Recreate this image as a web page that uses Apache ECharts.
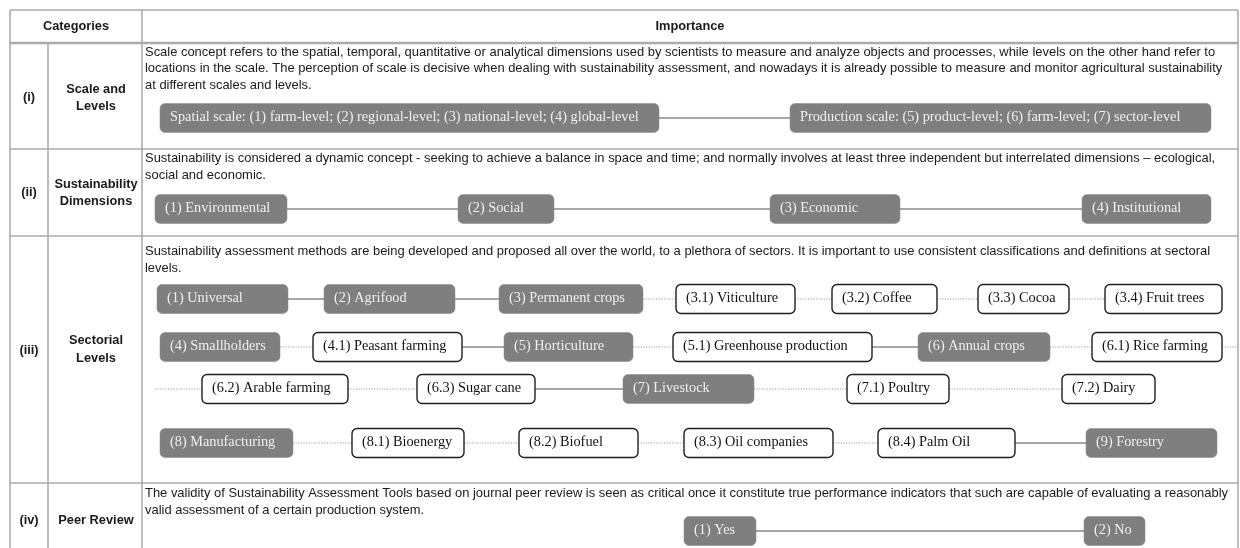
<!DOCTYPE html>
<html>
<head>
<meta charset="utf-8">
<script src="https://cdn.jsdelivr.net/npm/echarts@6/dist/echarts.min.js"></script>
<style>
html,body{margin:0;padding:0;background:#fff;}
#chart{width:1240px;height:548px;}
</style>
</head>
<body>
<div id="chart"></div>
<script>
// ================= DATA =================
const headerLabels = ['Categories', 'Importance'];
const categoryIds = ['(i)', '(ii)', '(iii)', '(iv)'];
const categoryNames = [['Scale and', 'Levels'], ['Sustainability', 'Dimensions'], ['Sectorial', 'Levels'], ['Peer Review']];
const descriptions = [
  ['Scale concept refers to the spatial, temporal, quantitative or analytical dimensions used by scientists to measure and analyze objects and processes, while levels on the other hand refer to',
   'locations in the scale. The perception of scale is decisive when dealing with sustainability assessment, and nowadays it is already possible to measure and monitor agricultural sustainability',
   'at different scales and levels.'],
  ['Sustainability is considered a dynamic concept - seeking to achieve a balance in space and time; and normally involves at least three independent but interrelated dimensions \u2013 ecological,',
   'social and economic.'],
  ['Sustainability assessment methods are being developed and proposed all over the world, to a plethora of sectors. It is important to use consistent classifications and definitions at sectoral',
   'levels.'],
  ['The validity of Sustainability Assessment Tools based on journal peer review is seen as critical once it constitute true performance indicators that such are capable of evaluating a reasonably',
   'valid assessment of a certain production system.']
];
const scaleNodes = ['Spatial scale: (1) farm-level; (2) regional-level; (3) national-level; (4) global-level',
                    'Production scale: (5) product-level; (6) farm-level; (7) sector-level'];
const dimensionNodes = ['(1) Environmental', '(2) Social', '(3) Economic', '(4) Institutional'];
const sectorNodes = [
  '(1) Universal', '(2) Agrifood', '(3) Permanent crops', '(3.1) Viticulture', '(3.2) Coffee', '(3.3) Cocoa', '(3.4) Fruit trees',
  '(4) Smallholders', '(4.1) Peasant farming', '(5) Horticulture', '(5.1) Greenhouse production', '(6) Annual crops', '(6.1) Rice farming',
  '(6.2) Arable farming', '(6.3) Sugar cane', '(7) Livestock', '(7.1) Poultry', '(7.2) Dairy',
  '(8) Manufacturing', '(8.1) Bioenergy', '(8.2) Biofuel', '(8.3) Oil companies', '(8.4) Palm Oil', '(9) Forestry'
];
const sectorKinds = [
  'main', 'main', 'main', 'sub', 'sub', 'sub', 'sub',
  'main', 'sub', 'main', 'sub', 'main', 'sub',
  'sub', 'sub', 'main', 'sub', 'sub',
  'main', 'sub', 'sub', 'sub', 'sub', 'main'
];
// links between sector nodes (from index, to index); style follows the kind of the target
const sectorLinks = [[0,1],[1,2],[2,3],[3,4],[4,5],[5,6],
  [7,8],[8,9],[9,10],[10,11],[11,12],[12,13],[13,14],[14,15],[15,16],[16,17],
  [18,19],[19,20],[20,21],[21,22],[22,23]];
const peerNodes = ['(1) Yes', '(2) No'];

// ================= LAYOUT (positions & sizes) =================
const colEdges = [10, 48, 142, 1238];
const rowEdges = [10, 43, 149, 236, 483, 548];
const descLineY = [[52, 68, 85], [158, 175], [251, 268], [493, 510]];
const catLabelY = [[89, 106], [184, 201], [340, 358], [520]];
const catIdY = [97, 192, 350, 520];
const BOX_H = 29;
const scaleBoxX = [[160, 659], [790, 1211]];
const scaleRowY = 118;
const dimBoxX = [[155, 287], [458, 554], [770, 900], [1082, 1211]];
const dimRowY = 209;
const sectorBoxX = [
  [157, 288], [324, 455], [499, 643], [676, 795], [832, 937], [978, 1069], [1105, 1222],
  [160, 280], [313, 462], [504, 633], [673, 872], [918, 1050], [1092, 1222],
  [202, 348], [417, 535], [623, 754], [847, 949], [1062, 1155],
  [160, 293], [352, 464], [519, 638], [684, 833], [878, 1015], [1086, 1217]
];
const sectorRowOf = [0,0,0,0,0,0,0, 1,1,1,1,1,1, 2,2,2,2,2, 3,3,3,3,3,3];
const sectorRowY = [299, 347, 389, 443];
const wrapOutX = 1238, wrapInX = 155;
const peerBoxX = [[684, 756], [1084, 1145]];
const peerRowY = 531;

// ================= BUILD MARKS =================
const boxes = [];
scaleNodes.forEach((t, i) => boxes.push({label: t, kind: 'main', x0: scaleBoxX[i][0], x1: scaleBoxX[i][1], y: scaleRowY}));
dimensionNodes.forEach((t, i) => boxes.push({label: t, kind: 'main', x0: dimBoxX[i][0], x1: dimBoxX[i][1], y: dimRowY}));
sectorNodes.forEach((t, i) => boxes.push({label: t, kind: sectorKinds[i], x0: sectorBoxX[i][0], x1: sectorBoxX[i][1], y: sectorRowY[sectorRowOf[i]]}));
peerNodes.forEach((t, i) => boxes.push({label: t, kind: 'main', x0: peerBoxX[i][0], x1: peerBoxX[i][1], y: peerRowY}));

const links = [];
function chain(xs, y) { for (let i = 0; i < xs.length - 1; i++) links.push({x0: xs[i][1], x1: xs[i + 1][0], y: y, style: 'solid'}); }
chain(scaleBoxX, scaleRowY);
chain(dimBoxX, dimRowY);
chain(peerBoxX, peerRowY);
sectorLinks.forEach(([a, b]) => {
  const style = sectorKinds[b] === 'main' ? 'solid' : 'dotted';
  const ra = sectorRowOf[a], rb = sectorRowOf[b];
  if (ra === rb) {
    links.push({x0: sectorBoxX[a][1], x1: sectorBoxX[b][0], y: sectorRowY[ra], style});
  } else {
    links.push({x0: sectorBoxX[a][1], x1: wrapOutX, y: sectorRowY[ra], style});
    links.push({x0: wrapInX, x1: sectorBoxX[b][0], y: sectorRowY[rb], style});
  }
});

const gridLines = [];
rowEdges.slice(0, rowEdges.length - 1).forEach((y, i) => gridLines.push({x0: colEdges[0], y0: y, x1: colEdges[3], y1: y, w: i === 1 ? 2.6 : 1.6}));
[colEdges[0], colEdges[2], colEdges[3]].forEach(x => gridLines.push({x0: x, y0: rowEdges[0], x1: x, y1: rowEdges[5], w: 1.6}));
gridLines.push({x0: colEdges[1], y0: rowEdges[1], x1: colEdges[1], y1: rowEdges[5], w: 1.6});

const texts = [];
const SANS = '"Liberation Sans", Arial, sans-serif';
const BOLD = 'bold 12.8px ' + SANS;
texts.push({t: headerLabels[0], x: (colEdges[0] + colEdges[2]) / 2, y: 26, align: 'center', font: BOLD});
texts.push({t: headerLabels[1], x: (colEdges[2] + colEdges[3]) / 2, y: 26, align: 'center', font: BOLD});
categoryIds.forEach((t, i) => texts.push({t, x: (colEdges[0] + colEdges[1]) / 2, y: catIdY[i], align: 'center', font: BOLD}));
categoryNames.forEach((lines, i) => lines.forEach((t, j) => texts.push({t, x: (colEdges[1] + colEdges[2]) / 2 + 1, y: catLabelY[i][j], align: 'center', font: BOLD})));
descriptions.forEach((lines, i) => lines.forEach((t, j) => texts.push({t, x: colEdges[2] + 3, y: descLineY[i][j], align: 'left', font: '12.95px ' + SANS})));

// ================= CHART =================
const chart = echarts.init(document.getElementById('chart'), null, {renderer: 'canvas'});
const option = {
  animation: false,
  backgroundColor: '#ffffff',
  grid: {left: 0, right: 0, top: 0, bottom: 0},
  xAxis: {type: 'value', min: 0, max: 1240, show: false},
  yAxis: {type: 'value', min: 0, max: 548, inverse: true, show: false},
  series: [
    {
      type: 'custom', name: 'table', clip: false, silent: true,
      data: gridLines.map(g => [g.x0, g.y0, g.x1, g.y1]),
      renderItem: (params, api) => {
        const g = gridLines[params.dataIndex];
        const p0 = api.coord([g.x0, g.y0]), p1 = api.coord([g.x1, g.y1]);
        return {type: 'line', shape: {x1: p0[0], y1: p0[1], x2: p1[0], y2: p1[1]}, style: {stroke: '#ababab', lineWidth: g.w}};
      }
    },
    {
      type: 'custom', name: 'links', clip: false, silent: true,
      data: links.map(l => [l.x0, l.y, l.x1]),
      renderItem: (params, api) => {
        const l = links[params.dataIndex];
        const p0 = api.coord([l.x0, l.y]), p1 = api.coord([l.x1, l.y]);
        const solid = l.style === 'solid';
        return {type: 'line', shape: {x1: p0[0], y1: p0[1], x2: p1[0], y2: p1[1]},
          style: {stroke: solid ? '#a6a6a6' : '#9c9c9c', lineWidth: solid ? 2 : 1.1, lineDash: solid ? null : [1.2, 1.4]}};
      }
    },
    {
      type: 'custom', name: 'boxes', clip: false, silent: true,
      data: boxes.map(b => [b.x0, b.y, b.x1]),
      renderItem: (params, api) => {
        const b = boxes[params.dataIndex];
        const p0 = api.coord([b.x0, b.y - BOX_H / 2]), p1 = api.coord([b.x1, b.y + BOX_H / 2]);
        const main = b.kind === 'main';
        return {type: 'group', children: [
          {type: 'rect', shape: {x: p0[0], y: p0[1], width: p1[0] - p0[0], height: p1[1] - p0[1], r: 5},
            style: {fill: main ? '#7f7f7f' : '#ffffff', stroke: main ? '#8a8a8a' : '#1f1f1f', lineWidth: main ? 0.5 : 1.4}},
          {type: 'text', style: {x: p0[0] + 10, y: (p0[1] + p1[1]) / 2 - 1, text: b.label,
            fill: main ? '#f0f0f0' : '#111111', font: '14.3px "Liberation Serif", "Times New Roman", serif',
            align: 'left', verticalAlign: 'middle'}}
        ]};
      }
    },
    {
      type: 'custom', name: 'texts', clip: false, silent: true,
      data: texts.map(t => [t.x, t.y]),
      renderItem: (params, api) => {
        const t = texts[params.dataIndex];
        const p = api.coord([t.x, t.y]);
        return {type: 'text', style: {x: p[0], y: p[1], text: t.t, fill: '#1a1a1a', font: t.font, align: t.align, verticalAlign: 'middle'}};
      }
    }
  ]
};
chart.setOption(option);
</script>
</body>
</html>
